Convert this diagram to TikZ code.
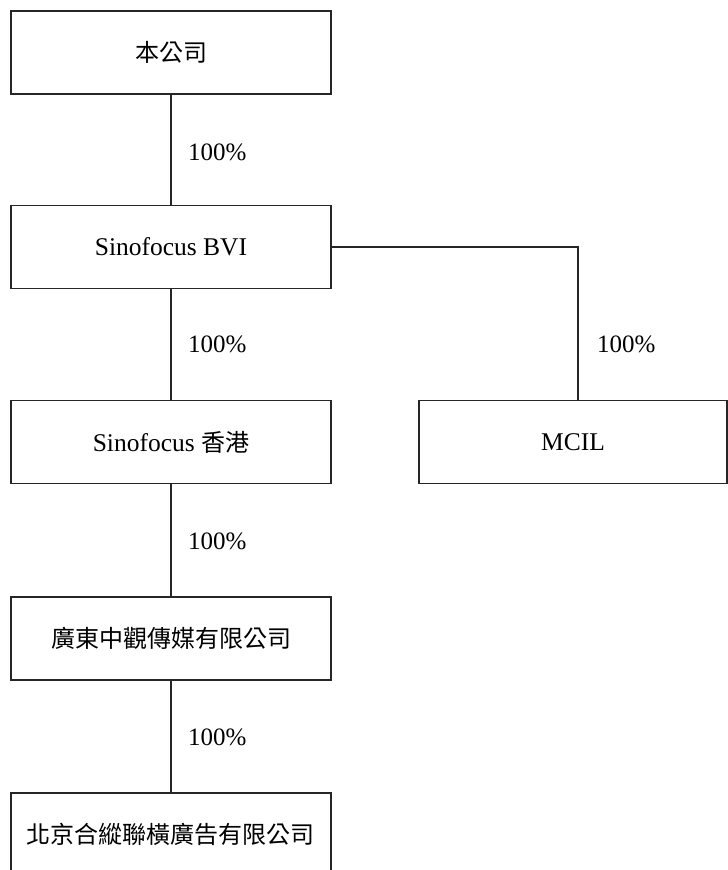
\documentclass[tikz,border=0pt]{standalone}
\usepackage{fontspec}
\setmainfont{Liberation Serif}
\newfontfamily\cjk{Noto Sans CJK TC}
\begin{document}
\begin{tikzpicture}[x=1pt,y=-1pt,
  box/.style={draw=black!85,line width=1.4pt,minimum width=320pt,minimum height=83pt,inner sep=0pt,font=\fontsize{25.5pt}{30pt}\selectfont},
  link/.style={draw=black!85,line width=1.4pt},
  pct/.style={anchor=west,inner sep=0pt,font=\fontsize{25pt}{30pt}\selectfont}]
\clip (0,0) rectangle (728,870);
\useasboundingbox (0,0) rectangle (728,870);
\node[box] (b1) at (171,52.5) {\cjk\fontsize{24pt}{28pt}\selectfont 本公司};
\node[box] (b2) at (171,247) {Sinofocus BVI};
\node[box] (b3) at (171,442) {Sinofocus {\cjk\fontsize{24pt}{28pt}\selectfont 香港}};
\node[box,minimum width=308pt] (b4) at (573,442) {MCIL};
\node[box] (b5) at (171,638.5) {\cjk\fontsize{24pt}{28pt}\selectfont 廣東中觀傳媒有限公司};
\node[box] (b6) at (171,834.5) {\cjk\fontsize{24pt}{28pt}\selectfont 北京合縱聯橫廣告有限公司};
\coordinate (m4) at (578,400.5);
\draw[link] (b1.south) -- (b2.north);
\draw[link] (b2.south) -- (b3.north);
\draw[link] (b3.south) -- (b5.north);
\draw[link] (b5.south) -- (b6.north);
\draw[link] (b2.east) -| (m4);
\node[pct] (p1) at (188,152) {100\%};
\node[pct] (p2) at (188,344) {100\%};
\node[pct] (p3) at (188,541) {100\%};
\node[pct] (p4) at (188,737) {100\%};
\node[pct] (p5) at (597,344) {100\%};
\end{tikzpicture}
\end{document}
